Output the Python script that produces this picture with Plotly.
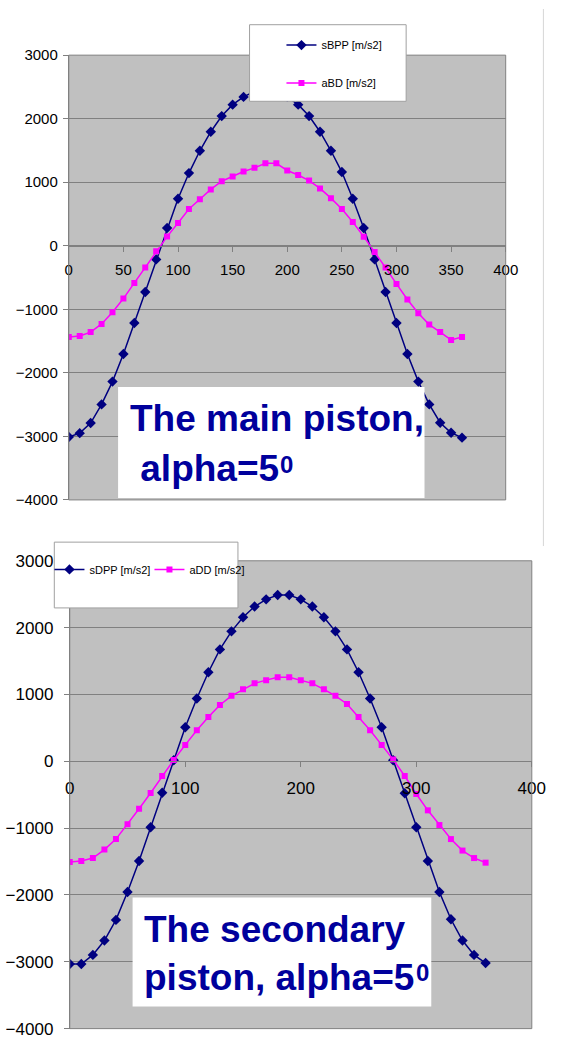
import plotly.graph_objects as go

W, H = 569, 1045

angle = list(range(0, 361, 10))

sBPP = [-3010, -2949, -2790, -2497, -2138, -1703, -1215, -728, -215,
        280, 740, 1144, 1495, 1795, 2041, 2221, 2343, 2430,
        2460, 2430,
        2343, 2221, 2041, 1795, 1495, 1160, 740, 280, -215,
        -728, -1215, -1703, -2138, -2497, -2785, -2943, -3020]
aBD = [-1436, -1421, -1359, -1231, -1046, -831, -585, -344, -87,
       144, 359, 579, 733, 887, 1015, 1092, 1169, 1226,
       1297, 1297,
       1185, 1113, 1026, 903, 749, 579, 374, 143, -97,
       -344, -600, -846, -1062, -1241, -1359, -1482, -1436]
sDPP = [-3034, -3034, -2897, -2682, -2373, -1957, -1492, -988, -470,
        15, 510, 940, 1332, 1674, 1944, 2154, 2316, 2423,
        2487, 2487,
        2423, 2316, 2154, 1944, 1674, 1332, 940, 510, 15,
        -479, -988, -1492, -1957, -2364, -2682, -2897, -3019]
aDD = [-1507, -1492, -1448, -1321, -1164, -944, -709, -474, -220,
       20, 245, 465, 661, 843, 979, 1077, 1166, 1214,
       1258, 1258,
       1214, 1166, 1077, 979, 857, 661, 465, 245, 25,
       -220, -489, -734, -954, -1164, -1336, -1448, -1517]

top_xticks = [0, 50, 100, 150, 200, 250, 300, 350, 400]
bot_xticks = [0, 100, 200, 300, 400]
yticks = [-4000, -3000, -2000, -1000, 0, 1000, 2000, 3000]
names_top = ["sBPP [m/s2]", "aBD [m/s2]"]
names_bot = ["sDPP [m/s2]", "aDD [m/s2]"]
text_top = ["The main piston,", " alpha=5"]
text_bot = ["The secondary", "piston, alpha=5"]
sup_text = "0"

NAVY = "#000080"
PINK = "#FF00FF"
GRID = "#808080"
TXTBLUE = "#00009C"
FONT = "Liberation Sans, Arial, sans-serif"
BIG = 37
SUP = 24

# Arial/Liberation Sans Bold advance widths (per 1000 em) to place the superscript
ADV = {" ": 278, "a": 556, "l": 278, "p": 611, "h": 611, "=": 584, "5": 556,
       "i": 278, "s": 556, "t": 333, "o": 611, "n": 611, ",": 278}


def text_w(s, size):
    return sum(ADV[c] for c in s) / 1000 * size


def fx(p):
    return p / W


def fy(p):
    return 1 - p / H


# plot areas in pixels: left, right, top, bottom
TOP = (66, 518, 47, 500)
BOT = (67, 545, 562, 1038.5)


def zero_pos(area):
    l, r, t, b = area
    y0 = fy(b)
    y1 = fy(t)
    return y0 + (0 - (-4000)) / 7000 * (y1 - y0)


fig = go.Figure()

fig.add_trace(go.Scatter(x=angle, y=sBPP, name=names_top[0], mode="lines+markers",
                         line=dict(color=NAVY, width=1.5),
                         marker=dict(symbol="diamond", size=8, color=NAVY),
                         xaxis="x", yaxis="y", legend="legend", legendgroup="a"))
fig.add_trace(go.Scatter(x=angle, y=aBD, name=names_top[1], mode="lines+markers",
                         line=dict(color=PINK, width=1.5),
                         marker=dict(symbol="square", size=6, color=PINK),
                         xaxis="x", yaxis="y", legend="legend", legendgroup="b"))
fig.add_trace(go.Scatter(x=angle, y=sDPP, name=names_bot[0], mode="lines+markers",
                         line=dict(color=NAVY, width=1.5),
                         marker=dict(symbol="diamond", size=8, color=NAVY),
                         xaxis="x2", yaxis="y2", legend="legend2"))
fig.add_trace(go.Scatter(x=angle, y=aDD, name=names_bot[1], mode="lines+markers",
                         line=dict(color=PINK, width=1.5),
                         marker=dict(symbol="square", size=6, color=PINK),
                         xaxis="x2", yaxis="y2", legend="legend2"))


def xaxis(area, ticks, fsize, standoff):
    l, r, t, b = area
    return dict(domain=[fx(l), fx(r)], range=[0, 400], anchor="free",
                position=zero_pos(area), tickvals=ticks, ticks="outside",
                ticklen=5, tickcolor=GRID, showline=True, linecolor=GRID,
                linewidth=1, showgrid=False, zeroline=False,
                ticklabelstandoff=standoff,
                tickfont=dict(family=FONT, size=fsize, color="black"),
                fixedrange=True)


def yaxis(area, anchor, fsize, standoff):
    l, r, t, b = area
    return dict(domain=[fy(b), fy(t)], range=[-4000, 3000], tickvals=yticks,
                anchor=anchor, showgrid=True, gridcolor=GRID, gridwidth=1,
                ticks="outside", ticklen=5, tickcolor=GRID, zeroline=False,
                showline=True, linecolor=GRID, linewidth=1,
                ticklabelstandoff=standoff,
                tickfont=dict(family=FONT, size=fsize, color="black"),
                fixedrange=True)


shapes = []
# plot-area borders
for xr, yr in (("x domain", "y domain"), ("x2 domain", "y2 domain")):
    shapes.append(dict(type="rect", xref=xr, yref=yr, x0=0, x1=1, y0=0, y1=1,
                       line=dict(color=GRID, width=1), layer="above"))
# chart area right edge line
shapes.append(dict(type="line", xref="paper", yref="paper", x0=fx(557), x1=fx(557),
                   y0=fy(0), y1=fy(547), line=dict(color="#d6d6d6", width=1)))
# legend boxes
shapes.append(dict(type="rect", xref="paper", yref="paper", x0=fx(253), x1=fx(415),
                   y0=fy(94), y1=fy(16), fillcolor="white",
                   line=dict(color="#a0a0a0", width=1), layer="above"))
shapes.append(dict(type="rect", xref="paper", yref="paper", x0=fx(51), x1=fx(241),
                   y0=fy(610), y1=fy(543), fillcolor="white",
                   line=dict(color="#a0a0a0", width=1), layer="above"))
# text boxes
shapes.append(dict(type="rect", xref="paper", yref="paper", x0=fx(117), x1=fx(434),
                   y0=fy(498), y1=fy(385), fillcolor="white", line=dict(width=0),
                   layer="above"))
shapes.append(dict(type="rect", xref="paper", yref="paper", x0=fx(132), x1=fx(441),
                   y0=fy(1016), y1=fy(905), fillcolor="white", line=dict(width=0),
                   layer="above"))

annotations = []
# (text, left x px, baseline y px, gap before superscript)
lines = [(text_top[0], 128, 430, 0), (text_top[1], 128, 481, 6),
         (text_bot[0], 143, 950, 0), (text_bot[1], 143, 999, 11)]
for txt, xl, base, _ in lines:
    annotations.append(dict(text=txt, xref="paper", yref="paper", x=fx(xl),
                            y=fy(base - 0.3465 * BIG), xanchor="left", yanchor="middle",
                            showarrow=False, borderpad=0,
                            font=dict(family=FONT, size=BIG, color=TXTBLUE, weight="bold")))
# superscript "0" after "5"
for txt, xl, base, gap in (lines[1], lines[3]):
    sx = xl + text_w(txt, BIG) + gap
    annotations.append(dict(text=sup_text, xref="paper", yref="paper", x=fx(sx),
                            y=fy(base - 9 - 0.3465 * SUP), xanchor="left", yanchor="middle",
                            showarrow=False, borderpad=0,
                            font=dict(family=FONT, size=SUP, color=TXTBLUE, weight="bold")))

fig.update_layout(
    width=W, height=H, margin=dict(l=0, r=0, t=0, b=0),
    paper_bgcolor="white", plot_bgcolor="#C0C0C0",
    xaxis=xaxis(TOP, top_xticks, 15, 5), yaxis=yaxis(TOP, "x", 15, 2),
    xaxis2=xaxis(BOT, bot_xticks, 17, 6), yaxis2=yaxis(BOT, "x2", 17, 7),
    shapes=shapes, annotations=annotations,
    legend=dict(x=fx(286), y=fy(22), xanchor="left", yanchor="top",
                bgcolor="rgba(0,0,0,0)", borderwidth=0, traceorder="grouped",
                tracegroupgap=19, font=dict(family=FONT, size=11, color="black")),
    legend2=dict(x=fx(46), y=fy(556), xanchor="left", yanchor="top",
                 orientation="h", bgcolor="rgba(0,0,0,0)", borderwidth=0,
                 entrywidth=55, entrywidthmode="pixels",
                 font=dict(family=FONT, size=11, color="black")),
    showlegend=True,
)

fig.write_html("out.html", config={"displayModeBar": False},
               post_script="document.body.style.margin='0';document.body.style.padding='0';")
